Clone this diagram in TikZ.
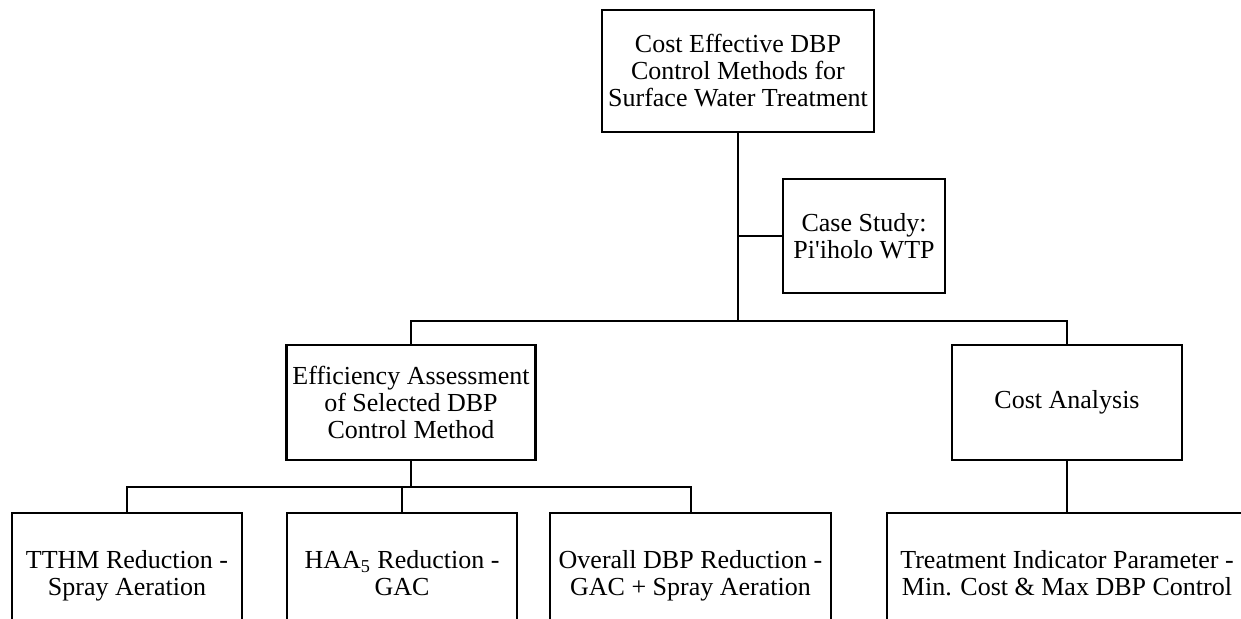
\documentclass[tikz,border=0pt]{standalone}
\usepackage{fontspec}
\setmainfont{Liberation Serif}
\usetikzlibrary{positioning}

\begin{document}
\begin{tikzpicture}
  [
   x=0.5pt, y=-0.5pt,
   box/.style={rectangle,draw,line width=1.2pt,align=center,inner sep=2pt,
               font=\fontsize{13}{13.5}\selectfont},
   topbox/.style={box,minimum width=136pt,minimum height=61pt},
   midbox/.style={box,minimum width=115pt,minimum height=57.5pt},
   lowbox/.style={box,minimum height=64pt},
   link/.style={line width=1pt}
  ]
   \useasboundingbox (0,0) rectangle (1241,619);
   \clip (0,0) rectangle (1241,619);

   \node[topbox] (goal) at (738,71) {Cost Effective DBP\\Control Methods for\\Surface Water Treatment};
   \node[box,minimum width=81pt,minimum height=57pt] (case) at (864,236) {Case Study:\\Pi\textquotesingle iholo WTP};
   \node[midbox,minimum width=124.5pt] (eff) at (411,402.5) {Efficiency Assessment\\of Selected DBP\\Control Method};
   \node[midbox] (cost) at (1067,402.5) {Cost Analysis};

   \node[lowbox,minimum width=115pt] (tthm) at (127,577) {\strut TTHM Reduction -\\\strut Spray Aeration};
   \node[lowbox,minimum width=115pt] (haa) at (402,577) {\strut HAA\textsubscript{5} Reduction -\\\strut GAC};
   \node[lowbox,minimum width=140.5pt] (overall) at (690.5,577) {\strut Overall DBP Reduction -\\\strut GAC + Spray Aeration};
   \node[lowbox,minimum width=180pt] (treat) at (1067,577) {\strut Treatment Indicator Parameter -\\\strut Min. Cost \& Max DBP Control};

   \coordinate (bus1) at (738,321);
   \coordinate (bus2) at (411,487);

   \draw[link] (goal.south) -- (bus1);
   \draw[link] (goal.south |- case.west) -- (case.west);
   \draw[link] (eff.north) |- (bus1) -| (cost.north);
   \draw[link] (eff.south) -- (bus2);
   \draw[link] (tthm.north) |- (bus2) -| (overall.north);
   \draw[link] (haa.north) -- (haa.north |- bus2);
   \draw[link] (cost.south) -- (treat.north);

\end{tikzpicture}
\end{document}
